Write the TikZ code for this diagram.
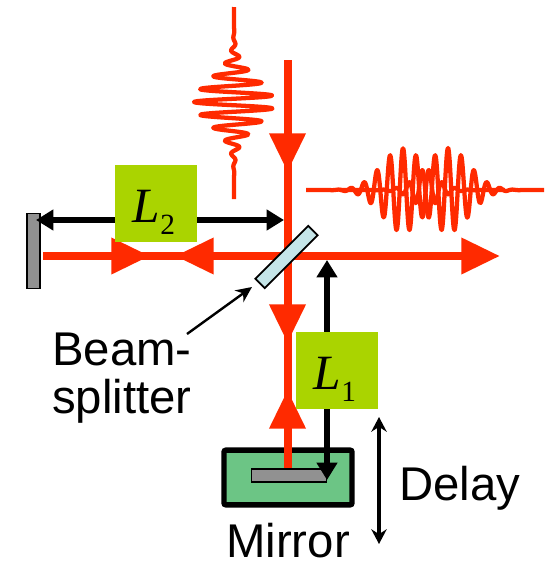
\documentclass[tikz,border=0pt]{standalone}
\usepackage{fontspec}
\setmainfont{Liberation Sans}
\newfontfamily\lenfont{Liberation Serif}
\usetikzlibrary{arrows.meta}

\definecolor{beamred}{HTML}{FF2A00}
\definecolor{boxgreen}{HTML}{AAD400}
\definecolor{stagegreen}{HTML}{6CC585}
\definecolor{splitblue}{HTML}{C5E5E8}
\definecolor{mirrorgray}{HTML}{919191}

\newcommand{\lenlabel}[1]{{\lenfont\fontsize{37}{40}\selectfont\textit{L}\raisebox{-9pt}{\fontsize{22}{24}\selectfont #1}}}

\tikzset{
  beam/.style={draw=beamred, line width=6pt},
  beamhead/.style={beam, -{Triangle[length=29pt, width=26pt]}, beamred},
  pulse/.style={draw=beamred, line width=3.2pt, line join=round},
  span/.style={draw=black, line width=3.8pt, {Triangle[length=13pt, width=15pt]}-{Triangle[length=13pt, width=15pt]}},
  lenbox/.style={fill=boxgreen, minimum width=61.5pt, minimum height=57.5pt, inner sep=0pt},
  lentext/.style={inner sep=0pt},
  mirror/.style={draw=black, line width=1.1pt, fill=mirrorgray, inner sep=0pt},
  textlabel/.style={inner sep=0pt, font=\fontsize{35.5}{36}\selectfont}
}

\begin{document}
\begin{tikzpicture}[x=.75pt, y=-.75pt]
  \useasboundingbox (0, 0) rectangle (548, 561);

  % pulses
  \draw[pulse] plot[variable=\t, domain=7:199, samples=260, smooth]
    ({234 - 40*cos(27.69*(\t - 102))*exp(-((\t - 102)/32)^2)}, \t);
  \draw[pulse] plot[variable=\t, domain=306:505, samples=320, smooth]
    (\t, {190 - 42*cos(27.69*(\t - 403))*exp(-((\t - 403)/30)^2)});
  \draw[pulse] plot[variable=\t, domain=340:544, samples=320, smooth]
    (\t, {190 - 42*cos(27.69*(\t - 448))*exp(-((\t - 448)/30)^2)});

  % stage and mirrors
  \node[draw=black, line width=4.1pt, fill=stagegreen, rounded corners=1.5pt, minimum width=96pt, minimum height=41pt, inner sep=0pt] (stage) at (288, 477.5) {};
  \node[mirror, minimum width=56pt, minimum height=10pt] (mirrorOne) at (289, 475.5) {};
  \node[mirror, minimum width=9.5pt, minimum height=56pt] (mirrorTwo) at (33.5, 251) {};

  \coordinate (inTop) at (287.5, 60);
  \coordinate (tipA) at (287.5, 172);
  \coordinate (tipB) at (287.5, 343);
  \coordinate (tipC) at (287.5, 390);
  \coordinate (backOne) at (287.5, 468);
  \coordinate (backTwo) at (43, 256);
  \coordinate (tipD) at (150, 256);
  \coordinate (tipE) at (175, 256);
  \coordinate (crossing) at (287.5, 256);
  \coordinate (outEnd) at (500, 256);

  % beams
  \draw[beam] (inTop) -- (backOne);
  \draw[beam] (backTwo) -- (crossing);
  \draw[beamhead] (inTop) -- (tipA);
  \draw[beamhead] (inTop) -- (tipB);
  \draw[beamhead] (backOne) -- (tipC);
  \draw[beamhead] (backTwo) -- (tipD);
  \draw[beamhead] (crossing) -- (tipE);
  \draw[beamhead] (crossing) -- (outEnd);

  % lengths
  \coordinate (spanLeft) at (36, 220);
  \coordinate (spanRight) at (284, 220);
  \coordinate (spanTop) at (327, 260);
  \coordinate (spanBottom) at (327, 480);
  \draw[span] (spanLeft) -- (spanRight);
  \draw[span] (spanTop) -- (spanBottom);

  \node[lenbox] (boxTwo) at (156, 203.5) {};
  \node[lentext] (textTwo) at (154, 212) {\lenlabel{2}};
  \node[lenbox] (boxOne) at (337, 370.5) {};
  \node[lentext] (textOne) at (335, 379) {\lenlabel{1}};

  \node[draw=black, line width=1.3pt, fill=splitblue, rotate=45, minimum width=56pt, minimum height=10pt, inner sep=0pt] (splitter) at (286.5, 257) {};

  % labels
  \node[textlabel, anchor=base west] (beamText) at (52, 365) {Beam-};
  \node[textlabel, anchor=base west] (splitText) at (52, 413) {splitter};
  \node[textlabel, anchor=base west] (delayText) at (399, 500) {Delay};
  \node[textlabel, anchor=base west] (mirrorText) at (226, 557) {Mirror};

  \coordinate (pointerTail) at (187, 334);
  \coordinate (pointerTip) at (252, 287);
  \draw[-{Stealth[length=12pt, width=11pt]}, line width=1.8pt] (pointerTail) -- (pointerTip);

  \coordinate (delayTop) at (379, 417);
  \coordinate (delayBottom) at (379, 544);
  \draw[{Stealth[length=11pt, width=11.5pt]}-{Stealth[length=11pt, width=11.5pt]}, line width=3pt] (delayTop) -- (delayBottom);
\end{tikzpicture}
\end{document}
